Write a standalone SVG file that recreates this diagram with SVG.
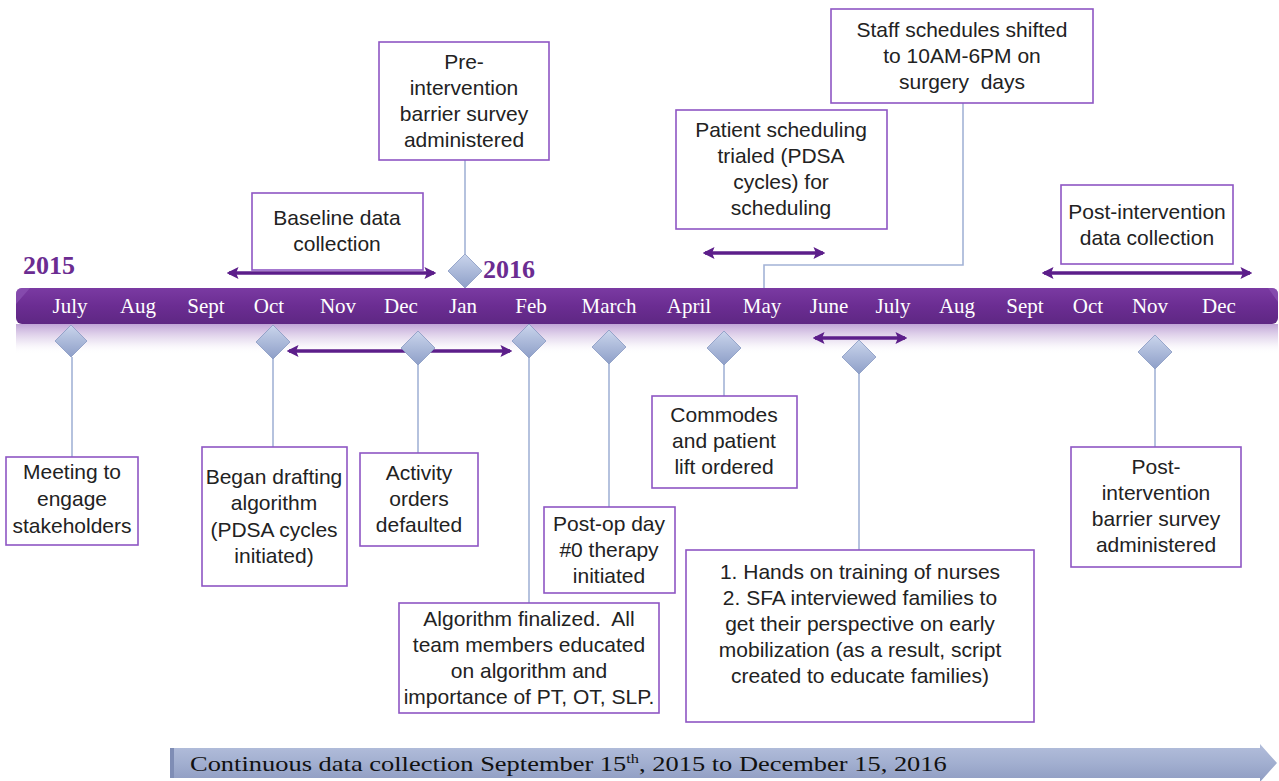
<svg xmlns="http://www.w3.org/2000/svg" width="1279" height="781" viewBox="0 0 1279 781">
<defs>
<linearGradient id="barG" x1="0" y1="0" x2="0" y2="1">
<stop offset="0" stop-color="#7a3aa2"/>
<stop offset="0.5" stop-color="#6b2d92"/>
<stop offset="1" stop-color="#5e2783"/>
</linearGradient>
<linearGradient id="reflG" x1="0" y1="0" x2="0" y2="1">
<stop offset="0" stop-color="#b99ad2" stop-opacity="0.9"/>
<stop offset="0.6" stop-color="#e6dcef" stop-opacity="0.6"/>
<stop offset="1" stop-color="#ffffff" stop-opacity="0"/>
</linearGradient>
<linearGradient id="dmG" x1="0" y1="0" x2="0" y2="1">
<stop offset="0" stop-color="#cad5ec"/>
<stop offset="1" stop-color="#8e9fc8"/>
</linearGradient>
<linearGradient id="btmG" x1="0" y1="0" x2="0" y2="1">
<stop offset="0" stop-color="#b3bedb"/>
<stop offset="0.5" stop-color="#a2afd0"/>
<stop offset="1" stop-color="#8f9cc2"/>
</linearGradient>
<marker id="ah" viewBox="0 0 10 10" refX="8" refY="5" markerWidth="3.4" markerHeight="3.4" orient="auto-start-reverse" markerUnits="strokeWidth">
<path d="M0,0 L10,5 L0,10 L2,5 z" fill="#5c1e8a"/>
</marker>
<style>
.box{fill:#ffffff;stroke:#8e56c4;stroke-width:1.6}
.t{font-family:"Liberation Sans",Arial,sans-serif;font-size:21px;fill:#222222;text-anchor:middle;white-space:pre}
.m{font-family:"Liberation Serif","Times New Roman",serif;font-size:21px;fill:#ffffff;text-anchor:middle}
.yr{font-family:"Liberation Serif","Times New Roman",serif;font-size:26px;font-weight:bold;fill:#6b2c91}
.ln{stroke:#a3b3d6;stroke-width:1.6;fill:none}
.arr{stroke:#5c1e8a;stroke-width:3.5;fill:none;marker-start:url(#ah);marker-end:url(#ah)}
.dm{fill:url(#dmG);stroke:#8798c2;stroke-width:0.8}
</style>
</defs>

<!-- timeline bar -->
<g id="timeline">
<rect x="16" y="324" width="1262" height="30" fill="url(#reflG)"/>
<rect x="16" y="288" width="1262" height="36" rx="6" fill="url(#barG)"/>
<path d="M16,294 q0,-6 6,-6 l8,0 l-14,16 z" fill="#8b52b3" opacity="0.7"/>
<path d="M1278,294 q0,-6 -6,-6 l-4,0 l10,14 z" fill="#8b52b3" opacity="0.7"/>
<text class="m" x="70" y="313">July</text>
<text class="m" x="138" y="313">Aug</text>
<text class="m" x="206" y="313">Sept</text>
<text class="m" x="269" y="313">Oct</text>
<text class="m" x="338" y="313">Nov</text>
<text class="m" x="401" y="313">Dec</text>
<text class="m" x="463" y="313">Jan</text>
<text class="m" x="531" y="313">Feb</text>
<text class="m" x="609" y="313">March</text>
<text class="m" x="689" y="313">April</text>
<text class="m" x="762" y="313">May</text>
<text class="m" x="829" y="313">June</text>
<text class="m" x="893" y="313">July</text>
<text class="m" x="957" y="313">Aug</text>
<text class="m" x="1025" y="313">Sept</text>
<text class="m" x="1088" y="313">Oct</text>
<text class="m" x="1150" y="313">Nov</text>
<text class="m" x="1219" y="313">Dec</text>
<text class="yr" x="23" y="274">2015</text>
<text class="yr" x="483" y="278">2016</text>
</g>

<!-- connectors -->
<g id="connectors">
<path class="ln" d="M72,357 V458"/>
<path class="ln" d="M273,358 V447"/>
<path class="ln" d="M418,364 V453"/>
<path class="ln" d="M529,357 V603"/>
<path class="ln" d="M609,363 V507"/>
<path class="ln" d="M724,364 V396"/>
<path class="ln" d="M859,373 V550"/>
<path class="ln" d="M1155,368 V447"/>
<path class="ln" d="M465,160 V254"/>
<path class="ln" d="M963,103 V265 H764 V288"/>
<path class="arr" d="M229,273 H434"/>
<path class="arr" d="M289,351 H510"/>
<path class="arr" d="M705,253 H823"/>
<path class="arr" d="M1044,273 H1250"/>
<path class="arr" d="M815,338 H905"/>
</g>

<!-- diamonds -->
<g id="markers">
<path class="dm" d="M71,325 L87,341 L71,357 L55,341 z"/>
<path class="dm" d="M273,325 L290,342 L273,359 L256,342 z"/>
<path class="dm" d="M418,331 L435,348 L418,365 L401,348 z"/>
<path class="dm" d="M465,254 L482,271 L465,288 L448,271 z"/>
<path class="dm" d="M529,324 L546,341 L529,358 L512,341 z"/>
<path class="dm" d="M609,330 L626,347 L609,364 L592,347 z"/>
<path class="dm" d="M724,331 L741,348 L724,365 L707,348 z"/>
<path class="dm" d="M859,340 L876,357 L859,374 L842,357 z"/>
<path class="dm" d="M1155,335 L1172,352 L1155,369 L1138,352 z"/>
</g>

<g id="n-pre">
<rect class="box" x="379" y="42" width="170" height="118"/>
<text class="t" x="464" y="69">Pre-</text>
<text class="t" x="464" y="95">intervention</text>
<text class="t" x="464" y="121">barrier survey</text>
<text class="t" x="464" y="147">administered</text>
</g>
<g id="n-staff">
<rect class="box" x="831" y="9" width="262" height="94"/>
<text class="t" x="962" y="37">Staff schedules shifted</text>
<text class="t" x="962" y="63">to 10AM-6PM on</text>
<text class="t" x="962" y="89">surgery  days</text>
</g>
<g id="n-patient">
<rect class="box" x="676" y="110" width="211" height="119"/>
<text class="t" x="781" y="137">Patient scheduling</text>
<text class="t" x="781" y="163">trialed (PDSA</text>
<text class="t" x="781" y="189">cycles) for</text>
<text class="t" x="781" y="215">scheduling</text>
</g>
<g id="n-baseline">
<rect class="box" x="252" y="193" width="171" height="77"/>
<text class="t" x="337" y="225">Baseline data</text>
<text class="t" x="337" y="251">collection</text>
</g>
<g id="n-postdata">
<rect class="box" x="1061" y="185" width="172" height="79"/>
<text class="t" x="1147" y="219">Post-intervention</text>
<text class="t" x="1147" y="245">data collection</text>
</g>
<g id="n-meeting">
<rect class="box" x="6" y="457" width="132" height="88"/>
<text class="t" x="72" y="479">Meeting to</text>
<text class="t" x="72" y="506">engage</text>
<text class="t" x="72" y="533">stakeholders</text>
</g>
<g id="n-began">
<rect class="box" x="202" y="447" width="145" height="139"/>
<text class="t" x="274" y="484">Began drafting</text>
<text class="t" x="274" y="510">algorithm</text>
<text class="t" x="274" y="537">(PDSA cycles</text>
<text class="t" x="274" y="563">initiated)</text>
</g>
<g id="n-activity">
<rect class="box" x="360" y="453" width="118" height="93"/>
<text class="t" x="419" y="480">Activity</text>
<text class="t" x="419" y="506">orders</text>
<text class="t" x="419" y="532">defaulted</text>
</g>
<g id="n-commodes">
<rect class="box" x="652" y="396" width="145" height="92"/>
<text class="t" x="724" y="422">Commodes</text>
<text class="t" x="724" y="448">and patient</text>
<text class="t" x="724" y="474">lift ordered</text>
</g>
<g id="n-postop">
<rect class="box" x="544" y="507" width="131" height="86"/>
<text class="t" x="609" y="531">Post-op day</text>
<text class="t" x="609" y="557">#0 therapy</text>
<text class="t" x="609" y="583">initiated</text>
</g>
<g id="n-algorithm">
<rect class="box" x="399" y="603" width="260" height="110"/>
<text class="t" x="529" y="626">Algorithm finalized.  All</text>
<text class="t" x="529" y="652">team members educated</text>
<text class="t" x="529" y="678">on algorithm and</text>
<text class="t" x="529" y="704">importance of PT, OT, SLP.</text>
</g>
<g id="n-hands">
<rect class="box" x="686" y="550" width="348" height="172"/>
<text class="t" x="860" y="579">1. Hands on training of nurses</text>
<text class="t" x="860" y="605">2. SFA interviewed families to</text>
<text class="t" x="860" y="631">get their perspective on early</text>
<text class="t" x="860" y="657">mobilization (as a result, script</text>
<text class="t" x="860" y="683">created to educate families)</text>
</g>
<g id="n-postsurvey">
<rect class="box" x="1071" y="447" width="170" height="120"/>
<text class="t" x="1156" y="474">Post-</text>
<text class="t" x="1156" y="500">intervention</text>
<text class="t" x="1156" y="526">barrier survey</text>
<text class="t" x="1156" y="552">administered</text>
</g>

<g id="continuous">
<path d="M170,748 H1260 V744 L1277,763 L1260,782 V778 H170 z" fill="url(#btmG)"/>
<rect x="170" y="748" width="4" height="30" fill="#7f8db5"/>
<text transform="translate(190,771) scale(1.26,1)" x="0" y="0" font-family="'Liberation Serif','Times New Roman',serif" font-size="21px" fill="#111111">Continuous data collection September 15<tspan font-size="13px" dy="-8">th</tspan><tspan dy="8">, 2015 to December 15, 2016</tspan></text>
</g>
</svg>
